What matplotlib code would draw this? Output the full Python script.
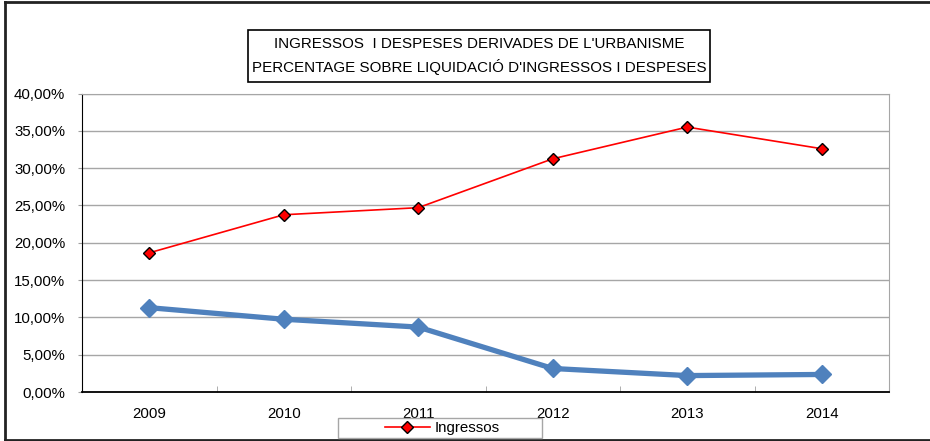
import matplotlib.pyplot as plt
from matplotlib.patches import Rectangle
from matplotlib.lines import Line2D
from matplotlib.ticker import FuncFormatter, MultipleLocator

plt.rcParams['font.family'] = ['Liberation Sans', 'DejaVu Sans']

years = ['2009', '2010', '2011', '2012', '2013', '2014']
ingressos = [18.65, 23.75, 24.7, 31.25, 35.5, 32.6]
despeses = [11.3, 9.75, 8.7, 3.15, 2.2, 2.35]

fig = plt.figure(figsize=(9.3, 4.41), dpi=100)
ax = fig.add_axes([82 / 930, 1 - 392 / 441, (889 - 82) / 930, (392 - 93.5) / 441])

x = range(len(years))
ax.plot(x, despeses, color='#4F81BD', lw=3.8, marker='D', ms=9.5,
        mfc='#4F81BD', mec='#4F81BD', zorder=3)
ax.plot(x, ingressos, color='#FF0000', lw=1.2, marker='D', ms=6,
        mfc='#FF0000', mec='black', mew=1.0, zorder=4)

ax.set_xlim(-0.5, len(years) - 0.5)
ax.set_ylim(0, 40)
ax.yaxis.set_major_locator(MultipleLocator(5))
ax.yaxis.set_major_formatter(FuncFormatter(lambda v, p: f'{v:.2f}%'.replace('.', ',')))
ax.set_xticks(list(x))
ax.set_xticklabels(years)
ax.set_xticks([i + 0.5 for i in range(len(years) - 1)], minor=True)
ax.tick_params(axis='x', which='major', length=0, pad=11, labelsize=10.8)
ax.tick_params(axis='x', which='minor', direction='in', length=4, color='#A0A0A0')
ax.tick_params(axis='y', length=3, color='#A0A0A0', pad=9, labelsize=10.8)
ax.grid(axis='y', color='#A6A6A6', lw=1.0)
ax.set_axisbelow(True)
ax.spines['left'].set_color('black')
ax.spines['bottom'].set_color('black')
ax.spines['top'].set_color('#A6A6A6')
ax.spines['right'].set_color('#A6A6A6')
ax.spines['bottom'].set_linewidth(1.3)

# outer frame (left, top, bottom)
fig.add_artist(Line2D([5 / 930, 5 / 930], [1 - 440 / 441, 1 - 1.5 / 441],
                      transform=fig.transFigure, color='#222222', lw=2))
fig.add_artist(Line2D([5 / 930, 1], [1 - 1.5 / 441, 1 - 1.5 / 441],
                      transform=fig.transFigure, color='#222222', lw=2))
fig.add_artist(Line2D([5 / 930, 1], [1 - 440 / 441, 1 - 440 / 441],
                      transform=fig.transFigure, color='#222222', lw=2))

# title box
fig.add_artist(Rectangle((248 / 930, 1 - 82 / 441), (710 - 248) / 930, 52 / 441,
                         transform=fig.transFigure, fill=False, ec='black', lw=1.2))
fig.text(479 / 930, 1 - 44 / 441, "INGRESSOS  I DESPESES DERIVADES DE L'URBANISME",
         ha='center', va='center', fontsize=10.9)
fig.text(479 / 930, 1 - 67 / 441, "PERCENTAGE SOBRE LIQUIDACIÓ D'INGRESSOS I DESPESES",
         ha='center', va='center', fontsize=10.9)

# legend
fig.add_artist(Rectangle((338 / 930, 1 - 438 / 441), 204 / 930, 20 / 441,
                         transform=fig.transFigure, fc='white', ec='#A6A6A6', lw=1, zorder=5))
handle = Line2D([], [], color='#FF0000', lw=1.2, marker='D', ms=6, mfc='#FF0000', mec='black')
leg = fig.legend([handle], ['Ingressos'], loc='center', bbox_to_anchor=(442 / 930, 1 - 428 / 441),
                 frameon=False, fontsize=10.8, handlelength=3.0, handletextpad=0.3, borderpad=0)
leg.set_zorder(6)

fig.savefig('out.png', dpi=100)
